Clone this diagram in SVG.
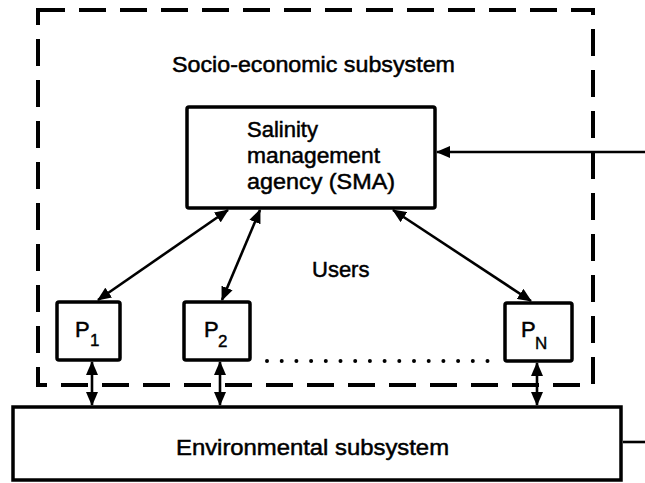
<svg xmlns="http://www.w3.org/2000/svg" width="645" height="483" viewBox="0 0 645 483">
<style>
.box{fill:#fff;stroke:#000;stroke-width:3.5}
.dash{fill:none;stroke:#000;stroke-width:4;stroke-dasharray:27 14}
.t{font-family:"Liberation Sans",Arial,sans-serif;font-size:22px;fill:#000;stroke:#000;stroke-width:0.5}
.sub{font-family:"Liberation Sans",Arial,sans-serif;font-size:17px;fill:#000;stroke:#000;stroke-width:0.4}
.ln{fill:none;stroke:#000;stroke-width:2.6}
.dot{fill:none;stroke:#000;stroke-width:4;stroke-linecap:round;stroke-dasharray:0 14.7}
</style>
<defs>
<marker id="ah" markerUnits="userSpaceOnUse" markerWidth="14" markerHeight="12" viewBox="0 0 14 12" refX="13" refY="6" orient="auto-start-reverse">
<path d="M0,0 L14,6 L0,12 Z" fill="#000"/>
</marker>
</defs>
<g id="socio-economic-subsystem">
<rect class="dash" x="38" y="10" width="555" height="375"/>
<text class="t" x="172" y="72" textLength="283" lengthAdjust="spacingAndGlyphs">Socio-economic subsystem</text>
</g>
<g id="sma">
<rect class="box" x="187" y="107" width="248" height="101" rx="2"/>
<text class="t" x="247" y="137">Salinity</text>
<text class="t" x="247" y="163" textLength="133" lengthAdjust="spacingAndGlyphs">management</text>
<text class="t" x="247" y="189" textLength="148" lengthAdjust="spacingAndGlyphs">agency (SMA)</text>
</g>
<g id="users-label">
<text class="t" x="312" y="277">Users</text>
</g>
<g id="p1">
<rect class="box" x="57" y="302" width="63" height="58" rx="2"/>
<text class="t" x="75" y="337">P</text>
<text class="sub" x="90" y="346">1</text>
</g>
<g id="p2">
<rect class="box" x="184" y="302" width="66" height="58" rx="2"/>
<text class="t" x="204" y="337">P</text>
<text class="sub" x="218" y="347">2</text>
</g>
<g id="pn">
<rect class="box" x="505" y="303" width="67" height="58" rx="2"/>
<text class="t" x="521" y="337">P</text>
<text class="sub" x="535" y="349">N</text>
</g>
<g id="environmental-subsystem">
<rect class="box" x="13" y="407" width="608" height="73"/>
<text class="t" x="176" y="455" textLength="273" lengthAdjust="spacingAndGlyphs">Environmental subsystem</text>
</g>
<g id="connectors">
<line class="ln" x1="228" y1="210" x2="98" y2="300" marker-start="url(#ah)" marker-end="url(#ah)"/>
<line class="ln" x1="260" y1="210" x2="222" y2="300" marker-start="url(#ah)" marker-end="url(#ah)"/>
<line class="ln" x1="393" y1="210" x2="531" y2="301" marker-start="url(#ah)" marker-end="url(#ah)"/>
<line class="ln" x1="645" y1="152" x2="437" y2="152" marker-end="url(#ah)"/>
<line class="ln" x1="92" y1="362" x2="92" y2="405" marker-start="url(#ah)" marker-end="url(#ah)"/>
<line class="ln" x1="220" y1="362" x2="220" y2="405" marker-start="url(#ah)" marker-end="url(#ah)"/>
<line class="ln" x1="537" y1="363" x2="537" y2="405" marker-start="url(#ah)" marker-end="url(#ah)"/>
<line class="ln" x1="623" y1="442" x2="645" y2="442"/>
<line class="dot" x1="267" y1="361" x2="490" y2="361"/>
</g>
</svg>
